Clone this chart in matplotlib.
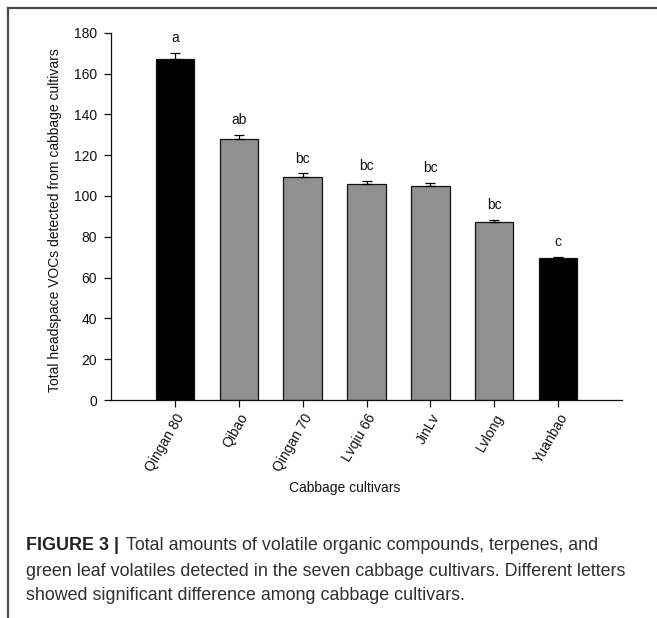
import matplotlib
matplotlib.use("Agg")
import matplotlib.pyplot as plt
from matplotlib.lines import Line2D
import numpy as np

cultivars = ["Qingan 80", "Qibao", "Qingan 70", "Lvqiu 66", "JinLv", "Lvlong", "Yuanbao"]
totals = [167.0, 127.9, 109.4, 105.7, 104.9, 87.4, 69.6]
errors = [3.1, 2.0, 1.7, 1.8, 1.5, 1.0, 0.6]
letters = ["a", "ab", "bc", "bc", "bc", "bc", "c"]
bar_colors = ["black", "#909090", "#909090", "#909090", "#909090", "#909090", "black"]
yticks = [0, 20, 40, 60, 80, 100, 120, 140, 160, 180]

plt.rcParams["font.family"] = ["Liberation Sans", "DejaVu Sans"]

W, H = 657, 618
fig = plt.figure(figsize=(W / 100, H / 100), dpi=100)

# outer panel frame (top and left edges)
frame_color = "#4a4a4a"
fig.add_artist(Line2D([7.5 / W, 1.0], [1 - 8.3 / H, 1 - 8.3 / H], transform=fig.transFigure,
                      color=frame_color, lw=1.6))
fig.add_artist(Line2D([7.5 / W, 7.5 / W], [0, 1 - 8.3 / H], transform=fig.transFigure,
                      color=frame_color, lw=1.6))

ax = fig.add_axes([111 / W, (H - 400) / H, (622 - 111) / W, (400 - 32.7) / H])
x = np.arange(len(cultivars))
ax.bar(x, totals, width=0.6, color=bar_colors, edgecolor="#111111", linewidth=0.9,
       yerr=[np.zeros(len(errors)), errors], capsize=3.5,
       error_kw=dict(ecolor="black", elinewidth=0.9, capthick=0.9), zorder=2)

for xi, v, e, lab in zip(x, totals, errors, letters):
    ax.text(xi, v + e + 3.8, lab, ha="center", va="bottom", fontsize=10, color="#111111")

ax.set_xlim(-1.0, 7.0)
ax.set_ylim(0, 180)
ax.set_yticks(yticks)
ax.set_xticks(x)
ax.set_xticklabels(cultivars, rotation=60, ha="right", rotation_mode="anchor", fontsize=10)
ax.tick_params(axis="both", direction="out", length=5, width=0.9, labelsize=10, colors="#111111")
ax.tick_params(axis="x", pad=3)
ax.tick_params(axis="y", pad=5)
for s in ("top", "right"):
    ax.spines[s].set_visible(False)
for s in ("left", "bottom"):
    ax.spines[s].set_linewidth(0.9)
    ax.spines[s].set_color("#111111")

ax.set_xlabel("Cabbage cultivars", fontsize=10, color="#111111")
ax.xaxis.set_label_coords((345 - 111) / (622 - 111), (400 - 488) / (400 - 32.7))
ax.xaxis.label.set_va("center")
ax.set_ylabel("Total headspace VOCs detected from cabbage cultivars", fontsize=10, color="#111111")
ax.yaxis.set_label_coords((55 - 111) / (622 - 111), 0.49)
ax.yaxis.label.set_va("center")

# caption
cap_color = "#303030"
cap_fs = 12.85
fig.text(26 / W, 1 - 546 / H, "FIGURE 3 |", fontsize=cap_fs, fontweight="bold", color="#222222",
         va="center", ha="left")
fig.text(126 / W, 1 - 546 / H, "Total amounts of volatile organic compounds, terpenes, and",
         fontsize=cap_fs, color=cap_color, va="center", ha="left")
fig.text(26 / W, 1 - 571 / H,
         "green leaf volatiles detected in the seven cabbage cultivars. Different letters",
         fontsize=cap_fs, color=cap_color, va="center", ha="left")
fig.text(26 / W, 1 - 596 / H, "showed significant difference among cabbage cultivars.",
         fontsize=cap_fs, color=cap_color, va="center", ha="left")

fig.savefig("out.png", dpi=100)
